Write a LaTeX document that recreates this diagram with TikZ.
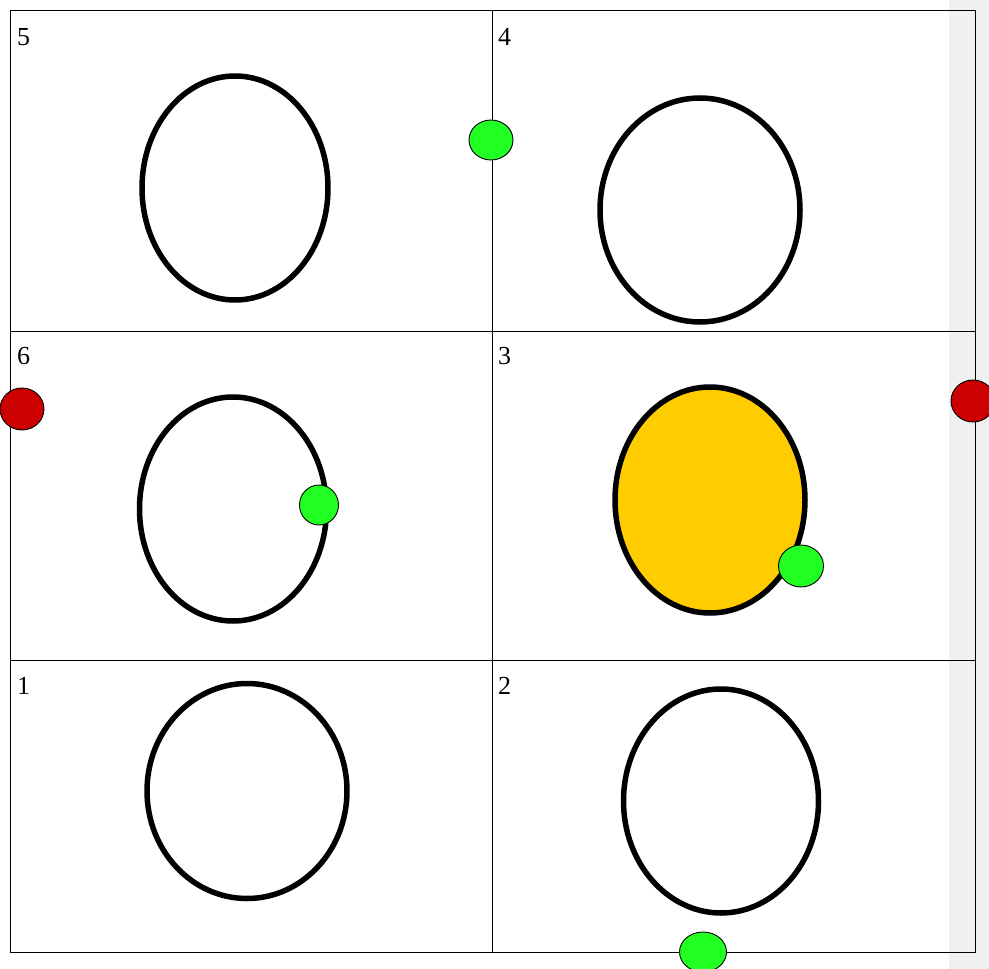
\documentclass[tikz,border=0pt]{standalone}
\usepackage{fontspec}
\setmainfont{Liberation Serif}
\definecolor{ringO}{RGB}{255,204,0}
\definecolor{dotG}{RGB}{34,255,34}
\definecolor{dotR}{RGB}{204,0,0}
\definecolor{stripG}{RGB}{240,240,240}

\begin{document}
\begin{tikzpicture}[x=1pt,y=-1pt,
  grid/.style={draw=black,line width=1pt},
  ring/.style={draw=black,line width=5.5pt},
  dot/.style={draw=black,line width=0.9pt},
  num/.style={anchor=north west,inner sep=0pt,font=\fontsize{26}{30}\selectfont}]
\useasboundingbox (0,0) rectangle (989,969);
\clip (0,0) rectangle (989,969);
\fill[stripG] (949,0) rectangle (989,969);
% cells
\draw[grid] (10,10) rectangle (975,952);
\draw[grid] (492,10) -- (492,952);
\draw[grid] (10,331) -- (975,331) (10,660) -- (975,660);
\foreach \n/\x/\y in {5/17/28,4/498/28,6/17/347,3/498/347,1/17/677,2/498/677}
  \node[num] (lab\n) at (\x,\y) {\n};
% rings
\foreach \x/\y/\a/\b in {235/188/93/112,700/210/100/112,233/509/93.5/112,247/791/100/107.5,721/801/97.5/112}
  \draw[ring] (\x,\y) ellipse [x radius=\a,y radius=\b];
\draw[ring,fill=ringO] (710,500) ellipse [x radius=95,y radius=113];
% dots
\foreach \x/\y/\a/\b in {491/140/22/20,319/505/19.5/20,801/566/22.5/21,703/952/23.5/20}
  \draw[dot,fill=dotG] (\x,\y) ellipse [x radius=\a,y radius=\b];
\foreach \x/\y in {22/409,973/401}
  \draw[dot,fill=dotR] (\x,\y) ellipse [x radius=22,y radius=21];
\end{tikzpicture}
\end{document}
